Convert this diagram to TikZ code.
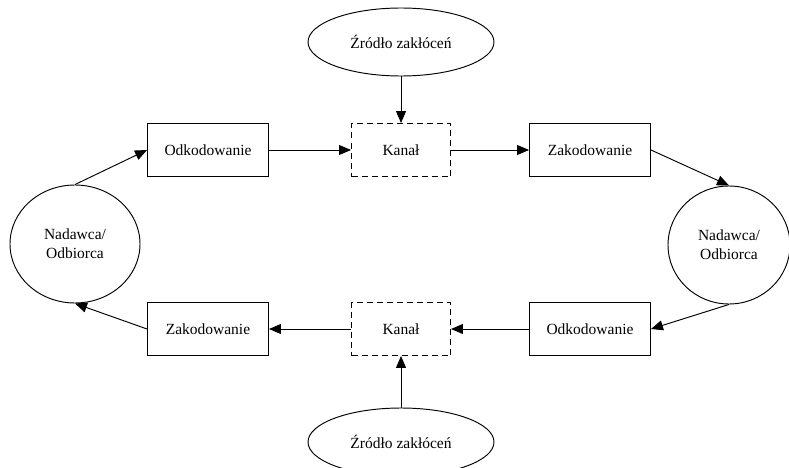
\documentclass[tikz,border=0pt]{standalone}
\usepackage{fontspec}
\setmainfont{Liberation Serif}
\usetikzlibrary{shapes.geometric,arrows.meta}
\begin{document}
\begin{tikzpicture}[x=1pt,y=-1pt,
  font=\fontsize{15.5}{19}\selectfont,
  line width=0.95pt,
  box/.style={draw, rectangle, minimum width=121pt, minimum height=53pt, inner sep=0pt},
  channel/.style={draw, rectangle, dash pattern=on 6pt off 4pt, minimum width=99pt, minimum height=53pt, inner sep=0pt},
  source/.style={draw, ellipse, minimum width=186pt, minimum height=68pt, inner sep=0pt},
  party/.style={draw, ellipse, minimum width=130pt, minimum height=118pt, inner sep=0pt, align=center},
  flow/.style={-{Triangle[length=12pt,width=10pt]}}
]
\useasboundingbox (0,0) rectangle (789,468);
\fill[white] (0,0) rectangle (789,468);
\clip (0,0) rectangle (789,468);

% upper channel
\node[source]  (srcT) at (401,42)  {Źródło zakłóceń};
\node[channel] (chT)  at (401,150) {Kanał};
\node[box]     (decT) at (208,150) {Odkodowanie};
\node[box]     (encT) at (590,150) {Zakodowanie};

% lower channel
\node[source]  (srcB) at (401,442) {Źródło zakłóceń};
\node[channel] (chB)  at (401,329) {Kanał};
\node[box]     (encB) at (208,329) {Zakodowanie};
\node[box]     (decB) at (590,329) {Odkodowanie};

% parties
\node[party] (left)  at (75,244)  {Nadawca/\\Odbiorca};
\node[party, minimum width=122pt] (right) at (729,245) {Nadawca/\\Odbiorca};

% connectors
\draw[flow] (srcT.south) -- (chT.north);
\draw[flow] (decT.east) -- (chT.west);
\draw[flow] (chT.east) -- (encT.west);
\draw[flow] (encT.east) -- (right.north);
\draw[flow] (left.north) -- (decT.west);

\draw[flow] (srcB.north) -- (chB.south);
\draw[flow] (decB.west) -- (chB.east);
\draw[flow] (chB.west) -- (encB.east);
\draw[flow] (right.south) -- (decB.east);
\draw[flow] (encB.west) -- (left.south);
\end{tikzpicture}
\end{document}
